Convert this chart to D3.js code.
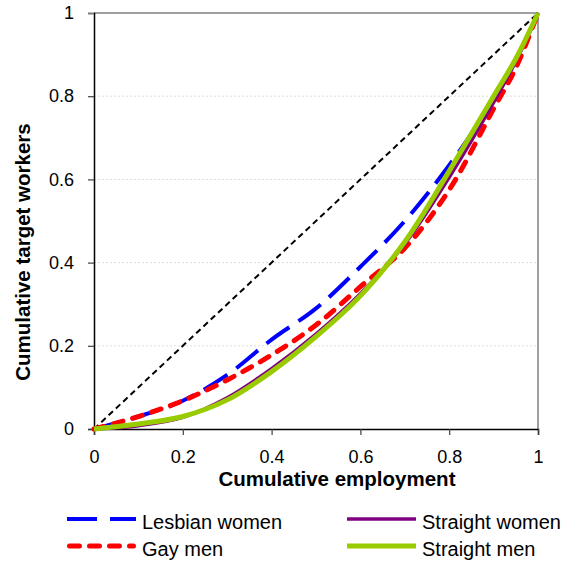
<!DOCTYPE html>
<html>
<head>
<meta charset="utf-8">
<script src="https://cdn.jsdelivr.net/npm/d3@7"></script>
<style>
  body { margin: 0; background: #fff; }
  svg { display: block; font-family: "Liberation Sans", Arial, sans-serif; }
</style>
</head>
<body>
<div id="chart"></div>
<script>
const shares = [0, 0.1, 0.2, 0.3, 0.4, 0.5, 0.6, 0.7, 0.8, 0.9, 0.95, 1];
const lesbianWomen = [0, 0.03, 0.068, 0.13, 0.215, 0.29, 0.39, 0.50, 0.634, 0.79, 0.885, 1];
const gayMen = [0, 0.03, 0.068, 0.118, 0.178, 0.25, 0.342, 0.435, 0.575, 0.77, 0.868, 1];
const straightWomen = [0, 0.008, 0.028, 0.075, 0.145, 0.228, 0.325, 0.445, 0.605, 0.785, 0.885, 1];
const straightMen = [0, 0.012, 0.03, 0.07, 0.138, 0.222, 0.32, 0.45, 0.62, 0.80, 0.89, 1];
const equality = [0, 1];
const ticks = [0, 0.2, 0.4, 0.6, 0.8, 1];

const series = [
  { name: 'Lesbian women', values: lesbianWomen, color: '#0000ff', width: 4, dash: '28,11', cap: 'butt' },
  { name: 'Gay men', values: gayMen, color: '#ff0000', width: 5, dash: '10,10', cap: 'round' },
  { name: 'Straight women', values: straightWomen, color: '#800080', width: 3.5, dash: null, cap: 'butt' },
  { name: 'Straight men', values: straightMen, color: '#99cc00', width: 5, dash: null, cap: 'butt' }
];

const width = 584, height = 563;
const margin = { top: 13, right: 46, bottom: 134, left: 94 };

const svg = d3.select('#chart').append('svg')
  .attr('width', width)
  .attr('height', height);

const x = d3.scaleLinear().domain([0, 1]).range([margin.left, width - margin.right]);
const y = d3.scaleLinear().domain([0, 1]).range([height - margin.bottom, margin.top]);
const fmt = d => (d === 0 || d === 1) ? String(d) : d.toFixed(1);

// gridlines
svg.append('g')
  .selectAll('line')
  .data(ticks.filter(t => t > 0 && t < 1))
  .join('line')
  .attr('x1', x(0)).attr('x2', x(1))
  .attr('y1', d => y(d)).attr('y2', d => y(d))
  .attr('stroke', '#dcdcdc')
  .attr('stroke-dasharray', '2,2');

// top and right frame
svg.append('path')
  .attr('d', `M${x(0)},${y(1)}H${x(1)}V${y(0)}`)
  .attr('fill', 'none')
  .attr('stroke', '#808080')
  .attr('stroke-width', 1.5);

// axes
const yAxis = svg.append('g')
  .attr('transform', `translate(${x(0)},0)`)
  .call(d3.axisLeft(y).tickValues(ticks).tickFormat(fmt).tickSize(6).tickPadding(14));
const xAxis = svg.append('g')
  .attr('transform', `translate(0,${y(0)})`)
  .call(d3.axisBottom(x).tickValues(ticks).tickFormat(fmt).tickSize(6).tickPadding(15));
[yAxis, xAxis].forEach(a => {
  a.select('.domain').attr('stroke', '#000').attr('stroke-width', 1.5);
  a.selectAll('.tick line').attr('stroke', '#404040').attr('stroke-width', 1.2);
  a.selectAll('.tick text').attr('font-size', 18).attr('fill', '#000')
    .attr('font-family', '"Liberation Sans", Arial, sans-serif');
});
yAxis.select('.tick:last-of-type line').attr('stroke', '#808080');

// equality line
svg.append('path')
  .datum(equality)
  .attr('fill', 'none')
  .attr('stroke', '#000')
  .attr('stroke-width', 2)
  .attr('stroke-dasharray', '6,4')
  .attr('d', d3.line().x(d => x(d)).y(d => y(d)));

const line = d3.line()
  .x((d, i) => x(shares[i]))
  .y(d => y(d))
  .curve(d3.curveCatmullRom.alpha(0.5));

svg.append('g')
  .selectAll('path')
  .data(series)
  .join('path')
  .attr('fill', 'none')
  .attr('stroke', d => d.color)
  .attr('stroke-width', d => d.width)
  .attr('stroke-dasharray', d => d.dash)
  .attr('stroke-linecap', d => d.cap)
  .attr('d', d => line(d.values));

// axis titles
svg.append('text')
  .attr('x', 337).attr('y', 486)
  .attr('text-anchor', 'middle')
  .attr('font-size', 20.5)
  .attr('font-weight', 'bold')
  .text('Cumulative employment');

svg.append('text')
  .attr('transform', 'translate(30,252) rotate(-90)')
  .attr('text-anchor', 'middle')
  .attr('font-size', 20.5)
  .attr('font-weight', 'bold')
  .text('Cumulative target workers');

// legend
const legendPos = [[67, 519], [67, 546], [347, 519], [347, 546]];
const legend = svg.append('g')
  .selectAll('g')
  .data(series)
  .join('g')
  .attr('transform', (d, i) => `translate(${legendPos[i][0]},${legendPos[i][1]})`);

legend.append('line')
  .attr('x1', d => d.cap === 'round' ? 2.5 : 0)
  .attr('x2', d => d.cap === 'round' ? 66.5 : 69)
  .attr('stroke', d => d.color)
  .attr('stroke-width', d => d.width)
  .attr('stroke-dasharray', d => d.dash === '28,11' ? '30,13' : d.dash)
  .attr('stroke-linecap', d => d.cap);

legend.append('text')
  .attr('x', 75)
  .attr('y', 10)
  .attr('font-size', 20)
  .text(d => d.name);
</script>
</body>
</html>
